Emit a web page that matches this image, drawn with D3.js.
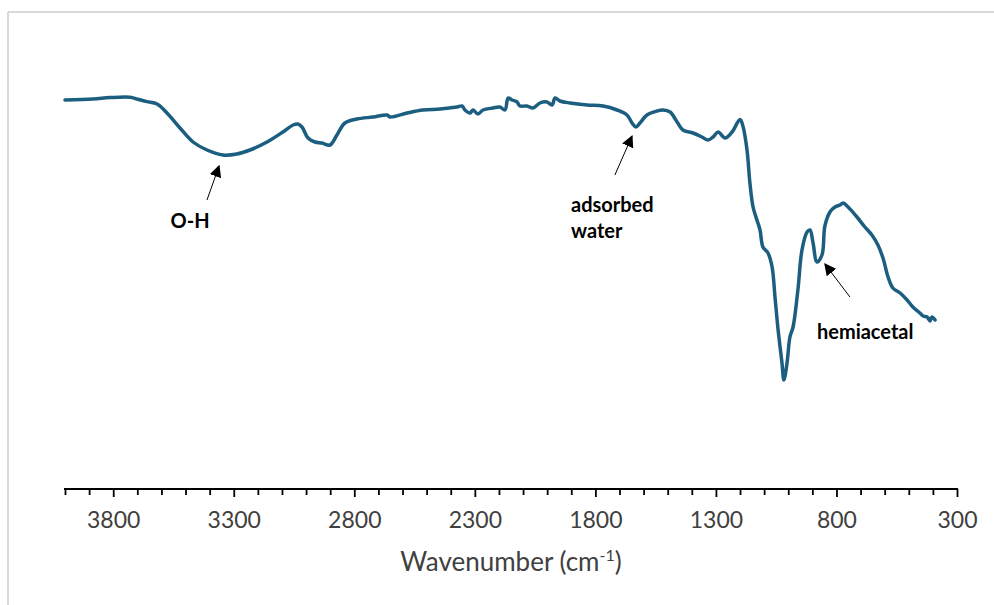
<!DOCTYPE html>
<html>
<head>
<meta charset="utf-8">
<script src="https://cdn.jsdelivr.net/npm/d3@7"></script>
<style>
  html, body { margin: 0; padding: 0; background: #fff; }
  svg { display: block; }
</style>
</head>
<body>
<svg id="chart" width="994" height="605"></svg>
<script>
// ---- data ----
const wavenumber = [4000, 3884, 3813, 3730, 3701, 3660, 3618, 3577, 3523, 3469, 3411, 3345, 3287, 3233, 3162, 3096, 3054, 3034, 3017, 2992, 2963, 2934, 2901, 2872, 2839, 2789, 2722, 2664, 2652, 2581, 2515, 2444, 2374, 2353, 2341, 2320, 2308, 2287, 2266, 2225, 2196, 2175, 2162, 2146, 2125, 2113, 2084, 2059, 2030, 2001, 1980, 1967, 1947, 1905, 1835, 1768, 1710, 1669, 1648, 1632, 1615, 1586, 1544, 1520, 1490, 1461, 1437, 1395, 1358, 1333, 1312, 1291, 1262, 1233, 1200, 1188, 1171, 1159, 1146, 1130, 1117, 1105, 1084, 1067, 1055, 1042, 1026, 1018, 1005, 993, 980, 960, 943, 922, 910, 897, 881, 860, 848, 827, 806, 785, 773, 752, 715, 682, 653, 628, 607, 586, 566, 536, 507, 483, 454, 440, 424, 412, 404, 391];
const transmittance = [97.5, 97.75, 98.1, 98.2, 97.75, 97.1, 96.5, 94.25, 90.5, 87, 85, 83.75, 84, 85, 87, 89.5, 91.25, 91.5, 90.75, 88, 87, 86.75, 86.25, 88.75, 91.75, 92.75, 93.25, 93.75, 93.25, 94.25, 95, 95.25, 95.75, 96, 95, 94.25, 95, 94, 95, 95.5, 95.75, 95, 98, 97.5, 97, 96, 96, 95.5, 96.75, 97, 96.25, 98, 97.25, 96.75, 96.25, 96, 95, 93.75, 91.75, 90.75, 91.75, 93.75, 94.75, 95, 94.5, 92, 90, 89.25, 88.25, 87.5, 88.25, 89.5, 88, 89.5, 92.6, 91, 85, 76.75, 70.75, 67.5, 65, 60.75, 59.25, 55.75, 48.25, 40, 31.75, 27.5, 31.75, 38.25, 40.75, 50, 60, 64.5, 65, 61.75, 57, 58.75, 66, 69.5, 70.75, 71.25, 71.75, 70.75, 68.25, 65.75, 63.75, 61.25, 58, 53.25, 50.5, 49.25, 47.5, 45.75, 44.25, 43.5, 43.25, 42.25, 43.25, 42.5, 43.25];

const majorTicks = [3800, 3300, 2800, 2300, 1800, 1300, 800, 300];
const xTitle = "Wavenumber (cm";
const xTitleSup = "-1";

// annotations: label lines, text anchor (wn, T), arrow tail (wn, T), arrow tip (wn, T)
const annLabels = [["O-H"], ["adsorbed", "water"], ["hemiacetal"]];
const annTextPos = [[3562, 65.5], [1901, 69.5], [881, 37.75]];
const annTail = [[3411, 72.5], [1719, 78.75], [744, 48.25]];
const annTip = [[3361, 81], [1648, 88.5], [848, 56.5]];

// ---- drawing ----
const svg = d3.select("#chart");
const FONT = "Lato, 'Open Sans', sans-serif";

// faint outer frame (top and left edges visible)
svg.append("line").attr("x1", 8).attr("y1", 12).attr("x2", 994).attr("y2", 12)
  .attr("stroke", "#d9d9d9").attr("stroke-width", 2);
svg.append("line").attr("x1", 8).attr("y1", 12).attr("x2", 8).attr("y2", 605)
  .attr("stroke", "#d9d9d9").attr("stroke-width", 2);

const x = d3.scaleLinear().domain([4000, 300]).range([65, 957]);
const y = d3.scaleLinear().domain([0, 100]).range([490, 90]);
const axisY = 489;

const defs = svg.append("defs");
defs.append("marker").attr("id", "ah").attr("viewBox", "0 0 10 10")
  .attr("refX", 9).attr("refY", 5).attr("markerWidth", 12).attr("markerHeight", 12)
  .attr("markerUnits", "userSpaceOnUse").attr("orient", "auto")
  .append("path").attr("d", "M0,0 L10,5 L0,10 Z").attr("fill", "#000");

// x axis: minor ticks every 100, major every 500
const minorTicks = d3.range(4000, 299, -100).filter(v => !majorTicks.includes(v));
const gx = svg.append("g").attr("transform", `translate(0,${axisY})`);
gx.append("g").call(d3.axisBottom(x).tickValues(minorTicks).tickSize(6).tickFormat("").tickSizeOuter(0))
  .call(g => g.select(".domain").remove())
  .call(g => g.selectAll("line").attr("stroke", "#000").attr("stroke-width", 1.8));
gx.append("g").call(d3.axisBottom(x).tickValues(majorTicks).tickSize(8).tickPadding(15)
    .tickFormat(d3.format("d")).tickSizeOuter(0))
  .call(g => g.select(".domain").attr("stroke", "#000").attr("stroke-width", 1.8)
      .attr("d", `M${x(4000) - 1},0H${x(300) + 1}`))
  .call(g => g.selectAll("line").attr("stroke", "#000").attr("stroke-width", 1.8))
  .call(g => g.selectAll("text").attr("fill", "#404040")
      .style("font-family", FONT).style("font-size", "23px"));

// axis title
const tt = svg.append("text").attr("x", 511).attr("y", 571).attr("text-anchor", "middle")
  .attr("fill", "#404040").style("font-family", FONT).style("font-size", "26px");
tt.append("tspan").text(xTitle);
tt.append("tspan").attr("dy", -10).style("font-size", "16px").text(xTitleSup);
tt.append("tspan").attr("dy", 10).text(")");

// spectrum line
const pts = wavenumber.map((w, i) => [w, transmittance[i]]);
svg.append("path").datum(pts)
  .attr("d", d3.line().x(d => x(d[0])).y(d => y(d[1])).curve(d3.curveCatmullRom.alpha(0.5)))
  .attr("fill", "none").attr("stroke", "#1b5e80").attr("stroke-width", 3.5)
  .attr("stroke-linejoin", "round").attr("stroke-linecap", "round");

// annotations
annLabels.forEach((lines, i) => {
  svg.append("line")
    .attr("x1", x(annTail[i][0])).attr("y1", y(annTail[i][1]))
    .attr("x2", x(annTip[i][0])).attr("y2", y(annTip[i][1]))
    .attr("stroke", "#000").attr("stroke-width", 1).attr("marker-end", "url(#ah)");
  const t = svg.append("text").attr("x", x(annTextPos[i][0])).attr("y", y(annTextPos[i][1]))
    .attr("fill", "#000").style("font-family", FONT)
    .style("font-size", "20px").style("font-weight", "bold");
  lines.forEach((l, j) => {
    t.append("tspan").attr("x", x(annTextPos[i][0])).attr("dy", j === 0 ? 0 : 26).text(l);
  });
});
</script>
</body>
</html>
